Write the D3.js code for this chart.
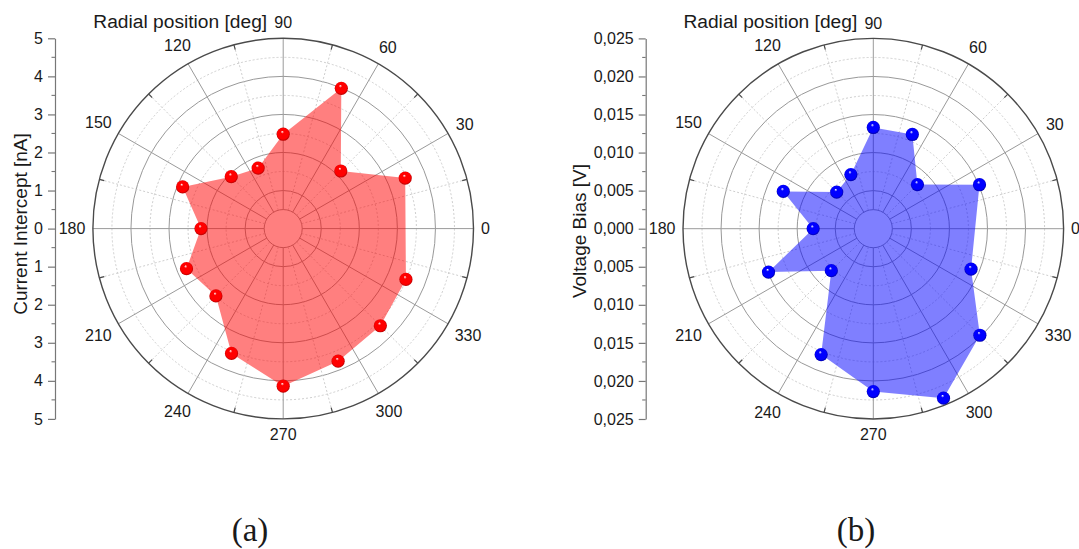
<!DOCTYPE html>
<html>
<head>
<meta charset="utf-8">
<script src="https://cdn.jsdelivr.net/npm/d3@7"></script>
<style>
  body { margin: 0; background: #fff; }
  svg text { font-family: "Liberation Sans", Arial, Helvetica, sans-serif; fill: #1a1a1a; }
</style>
</head>
<body>
<svg id="fig" width="1079" height="549"></svg>
<script>
// Measurement angles (deg, counter-clockwise from the 0 direction)
const angles = [22.5, 45, 67.5, 90, 112.5, 135, 157.5, 180, 202.5, 225, 247.5, 270, 292.5, 315, 337.5];
// (a) current intercept per position [nA]
const currentIntercept = [3.47, 2.14, 3.99, 2.48, 1.72, 1.93, 2.86, 2.16, 2.75, 2.50, 3.55, 4.14, 3.77, 3.61, 3.49];
// (b) voltage bias per position [V]
const voltageBias = [0.0151, 0.0082, 0.0134, 0.0133, 0.0077, 0.0068, 0.0128, 0.0079, 0.0149, 0.0078, 0.0179, 0.0214, 0.0241, 0.0198, 0.0139];
// Angular tick labels
const angleTicks = [0, 30, 60, 90, 120, 150, 180, 210, 240, 270, 300, 330];
// Radial tick values
const currentTicks = [0, 1, 2, 3, 4, 5];
const voltageTicks = [0, 0.005, 0.010, 0.015, 0.020, 0.025];

const svg = d3.select("#fig");
const defs = svg.append("defs");
const rad = Math.PI / 180;

function sphereGradient(id, base, dark) {
  const g = defs.append("radialGradient").attr("id", id)
    .attr("cx", 0.5).attr("cy", 0.5).attr("r", 0.55)
    .attr("fx", 0.42).attr("fy", 0.3);
  g.append("stop").attr("offset", "0%").attr("stop-color", "#ffffff");
  g.append("stop").attr("offset", "22%").attr("stop-color", base).attr("stop-opacity", 1);
  g.append("stop").attr("offset", "75%").attr("stop-color", base);
  g.append("stop").attr("offset", "100%").attr("stop-color", dark);
}
sphereGradient("ballRed", "#ff0000", "#990000");
sphereGradient("ballBlue", "#0000ff", "#000088");

function drawPanel(cfg) {
  const { cx, cy, R, axisX, ticks, values, fill, ball, yTitle, title, fmt } = cfg;
  const maxV = ticks[ticks.length - 1];
  const step = ticks[1] - ticks[0];
  const r = d3.scaleLinear().domain([0, maxV]).range([0, R]);
  const rInner = r(step / 2);

  const g = svg.append("g").attr("transform", `translate(${cx},${cy})`);

  // radial grid circles
  const minorCircles = ticks.slice(1, -1).map(t => t + step / 2);
  g.selectAll(".minorCircle").data(minorCircles).join("circle")
    .attr("r", d => r(d)).attr("fill", "none")
    .attr("stroke", "#c8c8c8").attr("stroke-width", 0.9).attr("stroke-dasharray", "2,2");
  g.selectAll(".majorCircle").data([step / 2].concat(ticks.slice(1, -1))).join("circle")
    .attr("r", d => r(d)).attr("fill", "none")
    .attr("stroke", "#999").attr("stroke-width", 1);

  // spokes: solid every 30°, dotted in between
  const minorSpokes = angleTicks.map(a => a + 15);
  g.selectAll(".minorSpoke").data(minorSpokes).join("line")
    .attr("x1", d => rInner * Math.cos(d * rad)).attr("y1", d => -rInner * Math.sin(d * rad))
    .attr("x2", d => R * Math.cos(d * rad)).attr("y2", d => -R * Math.sin(d * rad))
    .attr("stroke", "#c8c8c8").attr("stroke-width", 0.9).attr("stroke-dasharray", "2,2");
  g.selectAll(".majorSpoke").data(angleTicks).join("line")
    .attr("x1", d => rInner * Math.cos(d * rad)).attr("y1", d => -rInner * Math.sin(d * rad))
    .attr("x2", d => R * Math.cos(d * rad)).attr("y2", d => -R * Math.sin(d * rad))
    .attr("stroke", "#9a9a9a").attr("stroke-width", 1);

  // outer ring with inward minor ticks
  g.append("circle").attr("r", R).attr("fill", "none")
    .attr("stroke", "#4a4a4a").attr("stroke-width", 1.4);
  g.selectAll(".ringTick").data(minorSpokes).join("line")
    .attr("x1", d => (R - 5) * Math.cos(d * rad)).attr("y1", d => -(R - 5) * Math.sin(d * rad))
    .attr("x2", d => R * Math.cos(d * rad)).attr("y2", d => -R * Math.sin(d * rad))
    .attr("stroke", "#4a4a4a").attr("stroke-width", 1.2);

  // filled area
  const pts = angles.map((a, i) => ({ a, v: values[i] }));
  const area = d3.lineRadial()
    .angle(d => (90 - d.a) * rad)
    .radius(d => r(d.v))
    .curve(d3.curveLinearClosed);
  g.append("path").attr("d", area(pts))
    .attr("fill", fill).attr("fill-opacity", 0.5).attr("stroke", "none");

  // markers
  g.selectAll(".ball").data(pts).join("circle")
    .attr("cx", d => r(d.v) * Math.cos(d.a * rad))
    .attr("cy", d => -r(d.v) * Math.sin(d.a * rad))
    .attr("r", 6.6).attr("fill", `url(#${ball})`);

  // angular labels
  const labs = g.selectAll(".angLab").data(angleTicks).join("text")
    .attr("font-size", 16).attr("text-anchor", "middle")
    .text(d => d);
  labs.each(function (d) {
    const w = this.getComputedTextLength();
    const c = Math.cos(d * rad), s = Math.sin(d * rad);
    const dist = R + 7.5 + (w / 2) * Math.abs(c) + 8.1 * Math.abs(s);
    d3.select(this).attr("x", dist * c).attr("y", -dist * s + 5.7);
  });

  // angular title next to the 90 label
  svg.append("text").attr("x", cx - 16).attr("y", cy - R - 10.3)
    .attr("font-size", 19.2).attr("text-anchor", "end").text(title);

  // vertical radial axis (mirrored above / below the centre)
  const y = d3.scaleLinear().domain([maxV, -maxV]).range([cy - R, cy + R]);
  const signed = ticks.slice(1).map(t => -t).reverse().concat(ticks);
  const ax = svg.append("g").attr("transform", `translate(${axisX},0)`)
    .call(d3.axisLeft(y).tickValues(signed).tickFormat(d => fmt(Math.abs(d)))
      .tickSize(7).tickPadding(5).tickSizeOuter(0));
  ax.select(".domain").attr("stroke", "#777").attr("stroke-width", 1.2);
  ax.selectAll(".tick line").attr("stroke", "#777").attr("stroke-width", 1.2);
  ax.selectAll(".tick text").attr("font-size", 16).attr("fill", "#1a1a1a")
    .attr("font-family", "\"Liberation Sans\", Arial, sans-serif");
  const minorVals = signed.slice(0, -1).map(t => t + step / 2);
  ax.selectAll(".minor").data(minorVals).join("line")
    .attr("x1", -3.5).attr("x2", 0).attr("y1", d => y(d)).attr("y2", d => y(d))
    .attr("stroke", "#777").attr("stroke-width", 1.1);

  svg.append("text")
    .attr("transform", `translate(${cfg.yTitleX},${cfg.yTitleY}) rotate(-90)`)
    .attr("font-size", 19).attr("text-anchor", "middle").text(yTitle);
}

drawPanel({
  cx: 283.2, cy: 228.6, R: 190.3, axisX: 55,
  ticks: currentTicks, values: currentIntercept,
  fill: "#ff0000", ball: "ballRed",
  title: "Radial position [deg]",
  yTitle: "Current Intercept [nA]", yTitleX: 27, yTitleY: 224,
  fmt: d3.format("d")
});

drawPanel({
  cx: 873.3, cy: 228.7, R: 190.3, axisX: 645.7,
  ticks: voltageTicks, values: voltageBias,
  fill: "#0000ff", ball: "ballBlue",
  title: "Radial position [deg]",
  yTitle: "Voltage Bias [V]", yTitleX: 586, yTitleY: 231,
  fmt: d => d3.format(".3f")(d).replace(".", ",")
});

// sub-figure captions
svg.selectAll(".caption").data([{ t: "(a)", x: 250 }, { t: "(b)", x: 856 }]).join("text")
  .attr("x", d => d.x).attr("y", 541)
  .attr("text-anchor", "middle")
  .style("font-family", "\"Liberation Serif\", \"DejaVu Serif\", serif")
  .attr("font-size", 33)
  .text(d => d.t);
</script>
</body>
</html>
